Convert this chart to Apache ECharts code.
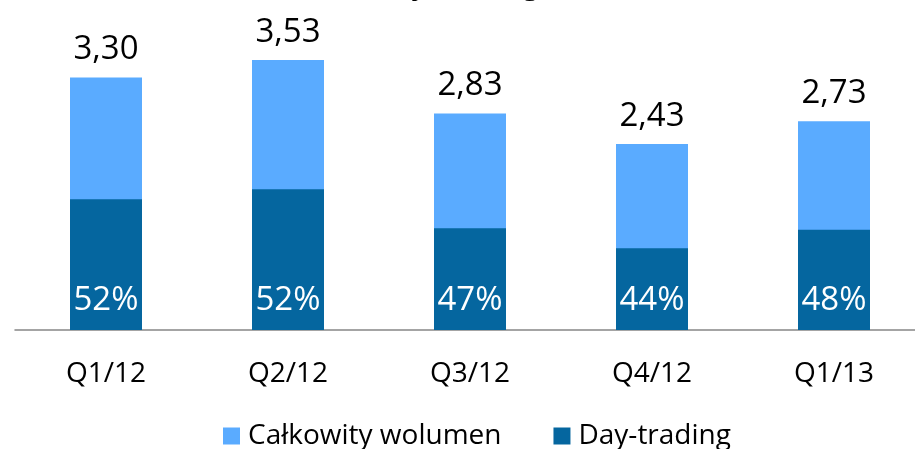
<!DOCTYPE html>
<html>
<head>
<meta charset="utf-8">
<script src="https://cdn.jsdelivr.net/npm/echarts@6/dist/echarts.min.js"></script>
<style>
  html, body { margin: 0; padding: 0; background: #fff; }
  #chart { width: 915px; height: 449px; }
</style>
</head>
<body>
<div id="chart"></div>
<script>
const categories = ['Q1/12', 'Q2/12', 'Q3/12', 'Q4/12', 'Q1/13'];
// całkowity wolumen (etykiety nad słupkami)
const totalVolume = [3.30, 3.53, 2.83, 2.43, 2.73];
const dayTrading = [1.71, 1.84, 1.33, 1.07, 1.31];
const dayTradingPct = ['52%', '52%', '47%', '44%', '48%'];

const FONT = '"Open Sans", "Noto Sans", sans-serif';

const chart = echarts.init(document.getElementById('chart'));
chart.setOption({
  animation: false,
  title: {
    text: 'Wolumen i udział day-trading (%)',
    right: 320,
    top: -33,
    textStyle: { fontFamily: FONT, fontSize: 28, fontWeight: 'bold', color: '#000' }
  },
  grid: { left: 15, width: 910, top: 24, bottom: 119, outerBoundsMode: 'none' },
  legend: {
    bottom: -6,
    left: 218,
    itemWidth: 17,
    itemHeight: 17,
    itemGap: 52,
    icon: 'rect',
    textStyle: { fontFamily: FONT, fontSize: 28, color: '#000', padding: [0, 0, 0, 3] },
    data: ['Całkowity wolumen', 'Day-trading']
  },
  xAxis: {
    type: 'category',
    data: categories,
    axisLine: { lineStyle: { color: '#868686', width: 1.5 } },
    axisTick: { length: 10, lineStyle: { color: '#868686', width: 1.5 } },
    axisLabel: { fontFamily: FONT, fontSize: 28, color: '#000', margin: 30 }
  },
  yAxis: {
    type: 'value',
    min: 0,
    max: 4,
    show: false,
    splitLine: { show: false }
  },
  series: [
    {
      name: 'Całkowity wolumen',
      type: 'bar',
      data: totalVolume,
      barWidth: 72,
      itemStyle: { color: '#5aabff' },
      label: {
        show: true,
        position: 'top',
        distance: 11,
        fontFamily: FONT,
        fontSize: 33,
        color: '#000',
        formatter: p => p.value.toFixed(2).replace('.', ',')
      }
    },
    {
      name: 'Day-trading',
      type: 'bar',
      data: dayTrading,
      barWidth: 72,
      barGap: '-100%',
      itemStyle: { color: '#05669f' },
      label: {
        show: true,
        position: 'insideBottom',
        distance: 13,
        fontFamily: FONT,
        fontSize: 33,
        color: '#fff',
        formatter: p => dayTradingPct[p.dataIndex]
      }
    }
  ]
});
window.addEventListener('resize', () => chart.resize());
</script>
</body>
</html>
